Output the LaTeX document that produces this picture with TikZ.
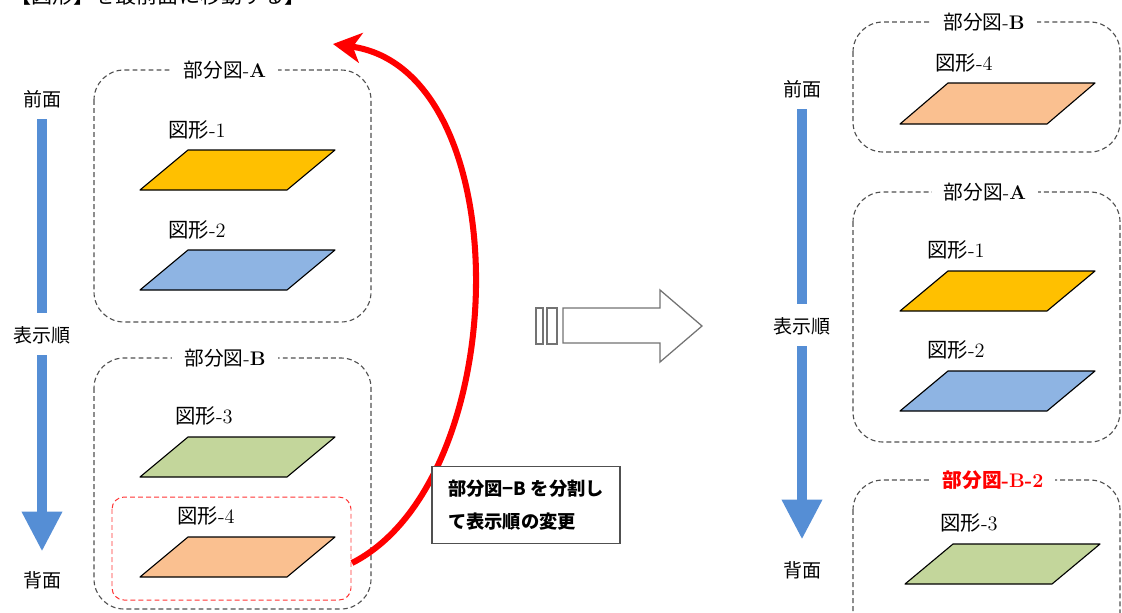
\documentclass[tikz,border=0pt]{standalone}
\usepackage{fontspec}
\newfontfamily\cjk{Noto Sans CJK JP}
\newcommand{\jp}[1]{{\cjk #1}}
\usetikzlibrary{arrows.meta, positioning}
\definecolor{mBlue}{HTML}{558ED5}
\definecolor{mYellow}{HTML}{FFC000}
\definecolor{mSky}{HTML}{8EB4E3}
\definecolor{mGreen}{HTML}{C3D69B}
\definecolor{mOrange}{HTML}{FAC090}
\definecolor{mRed}{HTML}{FF0000}
\definecolor{mGray}{HTML}{505050}
\tikzset{
  orderbar/.style={mBlue, line width=7pt},
  orderarr/.style={orderbar, -{Triangle[length=1cm, width=0.95cm]}},
  ordertxt/.style={font=\fontsize{13.5}{15}\cjk, inner sep=1pt},
  partbox/.style={draw=mGray, line width=0.8pt, dash pattern=on 3.5pt off 2.2pt,
                  rounded corners=0.75cm},
  redbox/.style={draw=mRed!80, line width=0.7pt, dash pattern=on 3.5pt off 2.2pt,
                 rounded corners=0.3cm},
  parttitle/.style={fill=white, inner xsep=0.3cm, inner ysep=1pt,
                    font=\fontsize{14}{16}\selectfont},
  figlabel/.style={font=\fontsize{14.5}{16}\selectfont, inner sep=1pt},
  figshape/.style={draw=black, line width=0.8pt, line join=round},
  hollow/.style={draw=mGray!80, line width=0.9pt, fill=white},
  redarr/.style={mRed, line width=4.3pt, -{Stealth[length=0.7cm, width=0.75cm, inset=0.2cm]}},
  callout/.style={draw=mGray, line width=1pt, fill=white, align=left,
                  minimum width=4.7cm, minimum height=1.925cm,
                  font=\fontsize{13}{23.5}\cjk\bfseries},
}
\begin{document}
\begin{tikzpicture}[x=0.025cm, y=-0.025cm]
  \useasboundingbox (0,0) rectangle (1122,612);
  % heading, cut at the top edge
  \node[anchor=west, font=\fontsize{15}{17}\cjk, inner sep=0pt] (head) at (10,-5) {【図形】を最前面に移動する】};

  % left: order arrow
  \node[ordertxt] (lfront) at (42,99) {前面};
  \node[ordertxt] (lorder) at (42,335) {表示順};
  \node[ordertxt] (lback) at (42,580) {背面};
  \draw[orderbar, shorten <=0.25cm, shorten >=0.3cm] (lfront) -- (lorder);
  \draw[orderarr, shorten <=0.25cm, shorten >=0.45cm] (lorder) -- (lback);

  % left: part A
  \draw[partbox] (94,70) rectangle (371,322);
  \node[parttitle] (ltitleA) at (225,70) {\jp{部分図}-\textbf{A}};
  \node[figlabel] (lfig1) at (197,130) {\jp{図形}-1};
  \draw[figshape, fill=mYellow] (140,190) -- (287,190) -- (335,150) -- (188,150) -- cycle;
  \node[figlabel] (lfig2) at (197,230) {\jp{図形}-2};
  \draw[figshape, fill=mSky] (140,290) -- (287,290) -- (335,250) -- (188,250) -- cycle;

  % left: part B
  \draw[partbox] (94,358) rectangle (371,609);
  \node[parttitle] (ltitleB) at (225,358) {\jp{部分図}-\textbf{B}};
  \node[figlabel] (lfig3) at (204,416) {\jp{図形}-3};
  \draw[figshape, fill=mGreen] (140,477) -- (287,477) -- (335,437) -- (188,437) -- cycle;
  \draw[redbox] (112,497) rectangle (351,600);
  \node[figlabel] (lfig4) at (206,516) {\jp{図形}-4};
  \draw[figshape, fill=mOrange] (140,577) -- (287,577) -- (335,537) -- (188,537) -- cycle;

  % move arrow and note
  \coordinate (redstart) at (352,563);
  \coordinate (redend) at (333,44);
  \draw[redarr] (redstart) .. controls (515,480) and (520,70) .. (redend);
  \node[callout] (note) at (526,505) {部分図−B を分割し\\て表示順の変更};

  % hollow arrow
  \draw[hollow] (536,308) rectangle (543,344);
  \draw[hollow] (547,308) rectangle (557,344);
  \draw[hollow] (563,308) -- (660,308) -- (660,290) -- (702,326)
    -- (660,362) -- (660,343) -- (563,343) -- cycle;

  % right: order arrow
  \node[ordertxt] (rfront) at (802,89) {前面};
  \node[ordertxt] (rorder) at (802,326) {表示順};
  \node[ordertxt] (rback) at (802,570) {背面};
  \draw[orderbar, shorten <=0.25cm, shorten >=0.3cm] (rfront) -- (rorder);
  \draw[orderarr, shorten <=0.25cm, shorten >=0.5cm] (rorder) -- (rback);

  % right: part B
  \draw[partbox] (853,22) rectangle (1120,152);
  \node[parttitle] (rtitleB) at (984,22) {\jp{部分図}-\textbf{B}};
  \node[figlabel] (rfig4) at (964,63) {\jp{図形}-4};
  \draw[figshape, fill=mOrange] (900,124) -- (1047,124) -- (1095,83) -- (948,83) -- cycle;

  % right: part A
  \draw[partbox] (853,192) rectangle (1120,442);
  \node[parttitle] (rtitleA) at (985,192) {\jp{部分図}-\textbf{A}};
  \node[figlabel] (rfig1) at (956,250) {\jp{図形}-1};
  \draw[figshape, fill=mYellow] (900,311) -- (1047,311) -- (1095,271) -- (948,271) -- cycle;
  \node[figlabel] (rfig2) at (956,350) {\jp{図形}-2};
  \draw[figshape, fill=mSky] (900,411) -- (1047,411) -- (1095,371) -- (948,371) -- cycle;

  % right: part B-2
  \draw[partbox] (853,480) rectangle (1120,650);
  \node[parttitle, text=mRed] (rtitleB2) at (993,480) {\textbf{{\cjk\bfseries 部分図}-B-2}};
  \node[figlabel] (rfig3) at (969,523) {\jp{図形}-3};
  \draw[figshape, fill=mGreen] (905,584) -- (1052,584) -- (1100,544) -- (953,544) -- cycle;
\end{tikzpicture}
\end{document}
